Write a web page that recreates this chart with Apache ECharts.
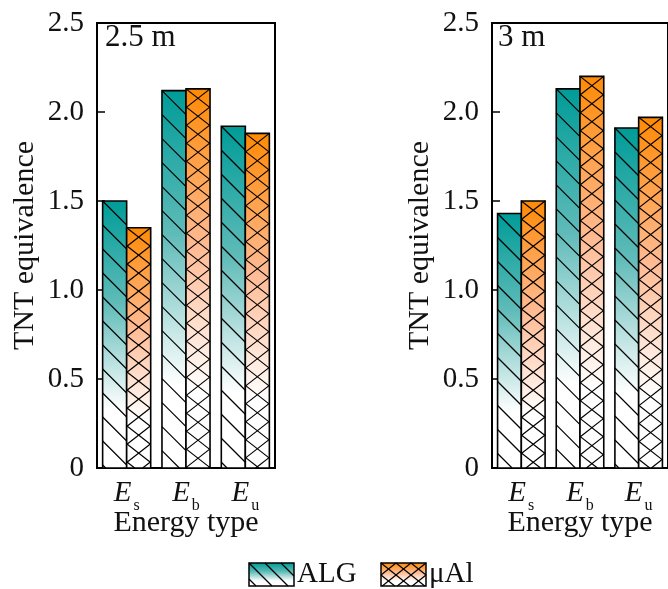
<!DOCTYPE html>
<html>
<head>
<meta charset="utf-8">
<script src="https://cdn.jsdelivr.net/npm/echarts@6/dist/echarts.min.js"></script>
<style>
html,body{margin:0;padding:0;background:#fff;}
#chart{width:668px;height:589px;}
</style>
</head>
<body>
<div id="chart"></div>
<script>
// ---- data ----
const categories = ['E_s', 'E_b', 'E_u'];
const panelTitles = ['2.5 m', '3 m'];
const seriesNames = ['ALG', 'μAl'];
const alg25 = [1.50, 2.12, 1.92];
const mal25 = [1.35, 2.13, 1.88];
const alg30 = [1.43, 2.13, 1.91];
const mal30 = [1.50, 2.20, 1.97];
const yMin = 0, yMax = 2.5, yStep = 0.5;

// ---- styles ----
const FONT = "'Liberation Serif','Times New Roman',serif";
const TXT = '#111';
const FS = 29;
const algStops = [{offset:0,color:'#009c98'},{offset:0.38,color:'#5fbbb8'},{offset:0.78,color:'#ffffff'},{offset:1,color:'#ffffff'}];
const malStops = [{offset:0,color:'#ff8a05'},{offset:0.42,color:'#ffbb95'},{offset:0.8,color:'#ffffff'},{offset:1,color:'#ffffff'}];

function hatch(x, y, w, h, slope, spacing, dir) {
  const out = [];
  const kMin = -Math.ceil(slope * w / spacing) - 1;
  const kMax = Math.ceil(h / spacing) + 1;
  for (let k = kMin; k <= kMax; k++) {
    const a = y + k * spacing;
    const t0 = Math.max(0, (y - a) / slope);
    const t1 = Math.min(w, (y + h - a) / slope);
    if (t1 - t0 > 0.5) {
      const px0 = dir > 0 ? x + t0 : x + w - t0;
      const px1 = dir > 0 ? x + t1 : x + w - t1;
      out.push({
        type: 'line', silent: true,
        shape: {x1: px0, y1: a + slope * t0, x2: px1, y2: a + slope * t1},
        style: {stroke: '#000', lineWidth: 1.2}
      });
    }
  }
  return out;
}

function barShape(x, y, w, h, stops, kind) {
  const children = [];
  children.push({
    type: 'rect', shape: {x: x, y: y, width: w, height: h},
    style: {fill: new echarts.graphic.LinearGradient(0, 0, 0, 1, stops), stroke: null}
  });
  if (kind === 'alg') {
    hatch(x, y, w, h, 1.0, 24, 1).forEach(c => children.push(c));
  } else {
    hatch(x, y, w, h, 0.78, 18, 1).forEach(c => children.push(c));
    hatch(x, y, w, h, 0.78, 18, -1).forEach(c => children.push(c));
  }
  children.push({
    type: 'rect', shape: {x: x, y: y, width: w, height: h},
    style: {fill: null, stroke: '#000', lineWidth: 1.6}
  });
  return children;
}

function makeRender(side, stops, kind) {
  return function (params, api) {
    const idx = api.value(0), val = api.value(1);
    const top = api.coord([idx, val]);
    const base = api.coord([idx, 0]);
    const band = api.size([1, 0])[0];
    const bw = band * 0.405;
    const x = side < 0 ? top[0] - bw : top[0];
    return {type: 'group', children: barShape(x, top[1], bw, base[1] - top[1], stops, kind)};
  };
}

function toData(arr) { return arr.map((v, i) => [i, v]); }

const grids = [
  {left: 97, top: 23, width: 178, height: 445},
  {left: 492, top: 23, width: 178, height: 445}
];

const xAxes = grids.map((g, i) => ({
  type: 'category', gridIndex: i, data: categories,
  axisLine: {show: true, lineStyle: {color: '#000', width: 2}},
  axisTick: {show: false},
  axisLabel: {
    margin: 11, interval: 0,
    formatter: v => '{e|' + v.split('_')[0] + '}{s|' + v.split('_')[1] + '}',
    rich: {
      e: {fontFamily: FONT, fontStyle: 'italic', fontSize: FS, color: TXT, lineHeight: 29, verticalAlign: 'top'},
      s: {fontFamily: FONT, fontSize: 16, color: TXT, lineHeight: 35, padding: [0, 0, 0, 2], verticalAlign: 'bottom'}
    }
  },
  name: 'Energy type', nameLocation: 'middle', nameGap: 40, nameMoveOverlap: false,
  nameTextStyle: {fontFamily: FONT, fontSize: 30, color: TXT}
}));

const yAxes = grids.map((g, i) => ({
  type: 'value', gridIndex: i, min: yMin, max: yMax, interval: yStep,
  axisLine: {show: true, lineStyle: {color: '#000', width: 2}},
  axisTick: {show: true, inside: true, length: 8, lineStyle: {color: '#000', width: 1.5}},
  splitLine: {show: false},
  axisLabel: {
    margin: 13, fontFamily: FONT, fontSize: FS, color: TXT,
    formatter: v => v === 0 ? '0' : v.toFixed(1)
  },
  name: 'TNT equivalence', nameLocation: 'middle', nameGap: 57, nameMoveOverlap: false,
  nameTextStyle: {fontFamily: FONT, fontSize: 30, color: TXT}
}));

const panels = [[alg25, mal25], [alg30, mal30]];
const series = [];
panels.forEach((p, i) => {
  series.push({type: 'custom', name: seriesNames[0], xAxisIndex: i, yAxisIndex: i, clip: false,
    renderItem: makeRender(-1, algStops, 'alg'), encode: {x: 0, y: 1}, data: toData(p[0])});
  series.push({type: 'custom', name: seriesNames[1], xAxisIndex: i, yAxisIndex: i, clip: false,
    renderItem: makeRender(1, malStops, 'mal'), encode: {x: 0, y: 1}, data: toData(p[1])});
});

function legendItem(x, y, stops, kind, label) {
  const w = 45, h = 23;
  const children = [];
  children.push({type: 'rect', shape: {x: x, y: y, width: w, height: h},
    style: {fill: new echarts.graphic.LinearGradient(0, 0, 0, 1, stops)}});
  if (kind === 'alg') {
    hatch(x, y, w, h, 1.0, 16, 1).forEach(c => children.push(c));
  } else {
    hatch(x, y, w, h, 0.8, 12, 1).forEach(c => children.push(c));
    hatch(x, y, w, h, 0.8, 12, -1).forEach(c => children.push(c));
  }
  children.push({type: 'rect', shape: {x: x, y: y, width: w, height: h},
    style: {fill: null, stroke: '#000', lineWidth: 1.5}});
  children.push({type: 'text', x: x + w + 3, y: y + h / 2,
    style: {text: label, fontFamily: FONT, fontSize: FS, fill: TXT, verticalAlign: 'middle', align: 'left'}});
  return {type: 'group', children: children};
}

const graphic = [
  {type: 'text', left: 105, top: 22, style: {text: panelTitles[0], fontFamily: FONT, fontSize: 31, fill: TXT}},
  {type: 'text', left: 498, top: 22, style: {text: panelTitles[1], fontFamily: FONT, fontSize: 31, fill: TXT}},
  legendItem(249, 563, algStops, 'alg', seriesNames[0]),
  legendItem(381, 563, malStops, 'mal', seriesNames[1])
];

const chart = echarts.init(document.getElementById('chart'), null, {renderer: 'canvas'});
chart.setOption({
  animation: false,
  backgroundColor: '#fff',
  grid: grids.map(g => Object.assign({show: true, borderColor: '#000', borderWidth: 2, backgroundColor: 'transparent'}, g)),
  xAxis: xAxes,
  yAxis: yAxes,
  series: series,
  graphic: graphic
});
</script>
</body>
</html>
